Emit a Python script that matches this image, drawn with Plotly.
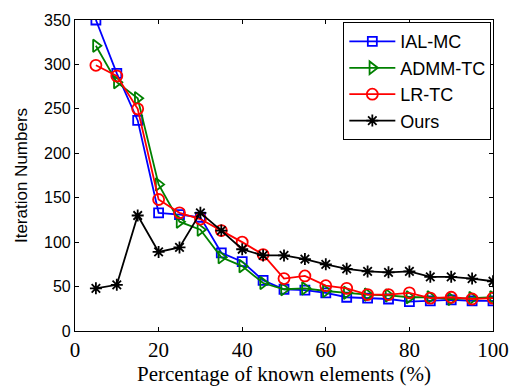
import plotly.graph_objects as go

# Percentage of known elements
pct = [5, 10, 15, 20, 25, 30, 35, 40, 45, 50, 55, 60, 65, 70, 75, 80, 85, 90, 95, 100]

# Iteration counts per method
ial_mc = [350, 290, 237, 133, 131, 128, 88, 78, 57, 47, 46, 43, 38, 37, 36, 33, 34, 35, 34, 34]
admm_tc = [321, 280, 262, 165, 123, 114, 83, 73, 54, 47, 48, 45, 43, 41, 40, 38, 38, 36, 37, 38]
lr_tc = [299, 287, 250, 148, 133, 126, 113, 100, 86, 59, 62, 51, 48, 41, 41, 43, 37, 38, 36, 37]
ours = [48, 52, 130, 89, 94, 133, 113, 92, 85, 85, 81, 75, 70, 67, 66, 67, 61, 61, 59, 56]

series = [
    ("IAL-MC", ial_mc, "#0000ff", "square-open", 9),
    ("ADMM-TC", admm_tc, "#008000", "triangle-right-open", 11),
    ("LR-TC", lr_tc, "#ff0000", "circle-open", 11),
    ("Ours", ours, "#000000", "asterisk-open", 10),
]

fig = go.Figure()
for name, vals, color, symbol, size in series:
    fig.add_trace(go.Scatter(
        x=pct, y=vals, name=name, mode="lines+markers",
        legendgroup=name,
        line=dict(color=color, width=1.8),
        marker=dict(symbol=symbol, size=size, color=color,
                    line=dict(color=color, width=1.8)),
    ))

axis_common = dict(
    showline=True, linecolor="black", linewidth=1.2, mirror="ticks",
    ticks="inside", ticklen=4, tickcolor="black", showgrid=False,
    zeroline=False,
)

serif = "Times New Roman, Liberation Serif"
sans = "Arial, Liberation Sans"

fig.update_layout(
    width=521, height=389,
    margin=dict(l=75, r=24, t=13, b=57),
    paper_bgcolor="white", plot_bgcolor="white",
    showlegend=True,
    legend=dict(
        x=0.996, y=0.993, xanchor="right", yanchor="top",
        bordercolor="black", borderwidth=1, bgcolor="white",
        font=dict(family=sans, size=18, color="black"),
        tracegroupgap=0, itemwidth=46,
    ),
    xaxis=dict(
        range=[0, 100], tickvals=[0, 20, 40, 60, 80, 100],
        tickfont=dict(family=serif, size=21, color="black"),
        title=dict(text="Percentage of known elements (%)",
                   font=dict(family=serif, size=21, color="black"),
                   standoff=0),
        **axis_common,
    ),
    yaxis=dict(
        range=[0, 350], tickvals=[0, 50, 100, 150, 200, 250, 300, 350],
        tickfont=dict(family=sans, size=16, color="black"),
        title=dict(text="Iteration Numbers",
                   font=dict(family=sans, size=17, color="black"),
                   standoff=12),
        **axis_common,
    ),
)

fig.write_html("out.html")
